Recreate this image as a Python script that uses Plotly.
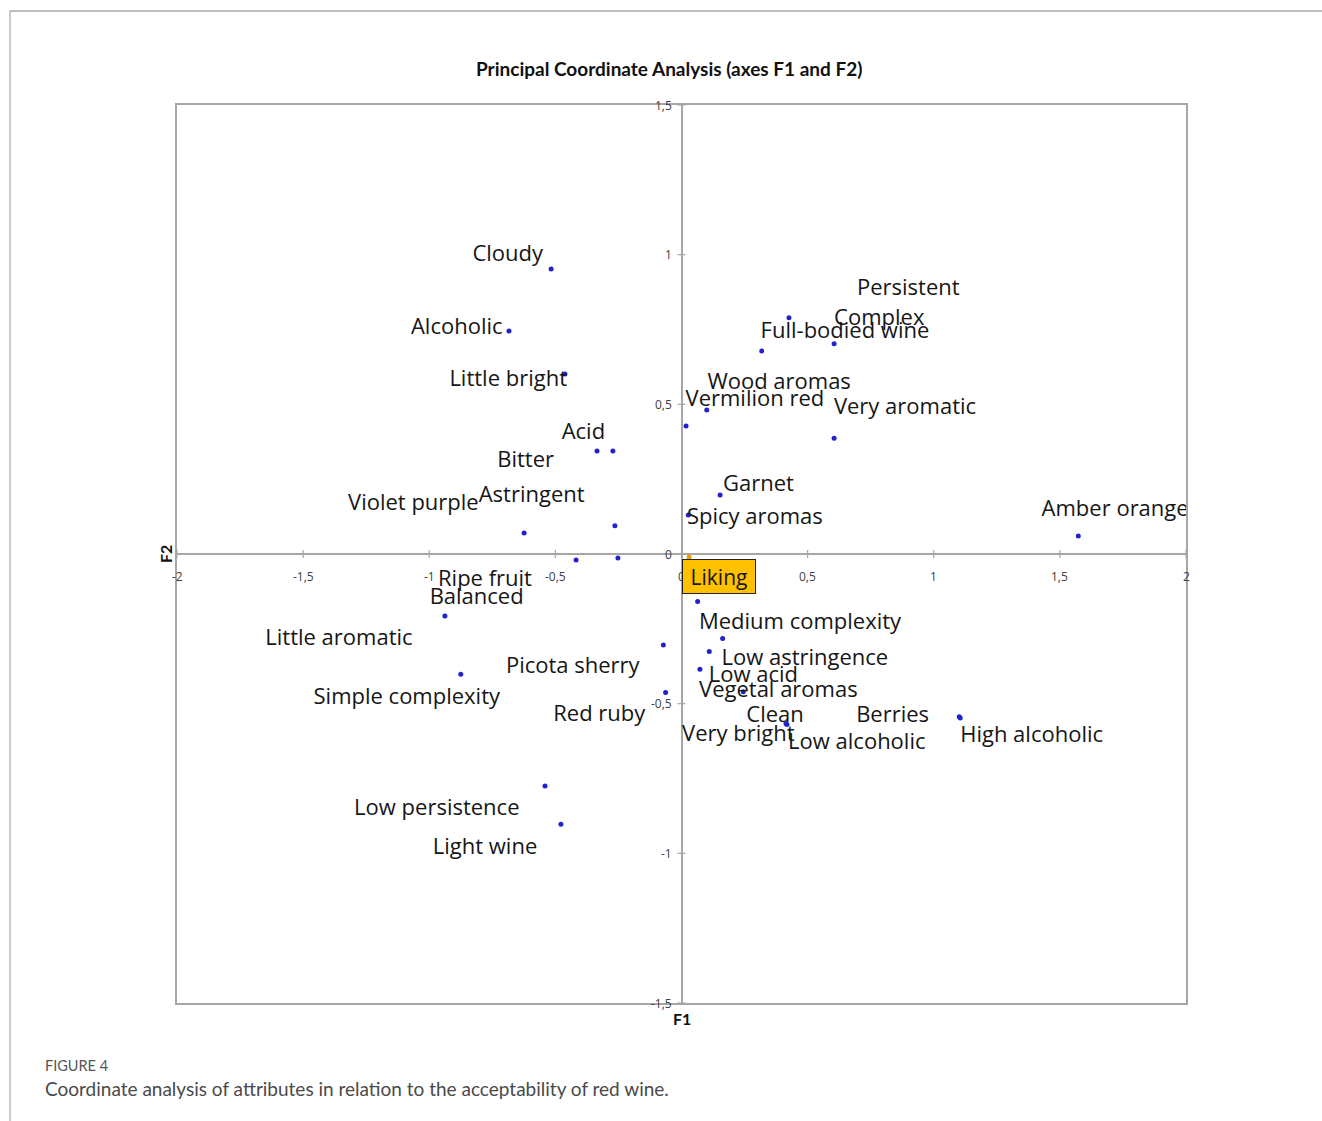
import plotly.graph_objects as go

# Attribute coordinates on the first two principal axes
attributes = [
    "Cloudy", "Alcoholic", "Little bright", "Acid", "Bitter", "Astringent",
    "Violet purple", "Ripe fruit", "Balanced", "Little aromatic",
    "Simple complexity", "Picota sherry", "Red ruby", "Low persistence",
    "Light wine", "Persistent", "Complex", "Full-bodied wine", "Wood aromas",
    "Vermilion red", "Very aromatic", "Garnet", "Spicy aromas", "Amber orange",
    "Medium complexity", "Low astringence", "Low acid", "Vegetal aromas",
    "Clean", "Very bright", "Low alcoholic", "Berries", "High alcoholic",
]
f1 = [
    -0.517, -0.684, -0.462, -0.272, -0.335, -0.264,
    -0.624, -0.252, -0.418, -0.938,
    -0.875, -0.072, -0.063, -0.541,
    -0.478, 0.426, 0.605, 0.318, 0.100,
    0.018, 0.605, 0.153, 0.027, 1.573,
    0.064, 0.163, 0.110, 0.073,
    0.245, 0.414, 0.418, 1.101, 1.105,
]
f2 = [
    0.952, 0.745, 0.601, 0.344, 0.344, 0.094,
    0.070, -0.013, -0.020, -0.207,
    -0.402, -0.304, -0.463, -0.775,
    -0.903, 0.789, 0.702, 0.678, 0.481,
    0.428, 0.387, 0.197, 0.130, 0.060,
    -0.159, -0.282, -0.326, -0.385,
    -0.460, -0.566, -0.570, -0.544, -0.548,
]
# Where each attribute name sits on the map (label centres, axis units)
label_f1 = [
    -0.689, -0.891, -0.687, -0.389, -0.618, -0.594,
    -1.063, -0.779, -0.812, -1.358,
    -1.089, -0.431, -0.326, -0.970,
    -0.779, 0.899, 0.784, 0.648, 0.387,
    0.291, 0.886, 0.305, 0.291, 1.719,
    0.470, 0.489, 0.285, 0.384,
    0.371, 0.225, 0.695, 0.837, 1.388,
]
label_f2 = [
    0.996, 0.752, 0.581, 0.403, 0.308, 0.191,
    0.164, -0.089, -0.148, -0.287,
    -0.482, -0.380, -0.540, -0.853,
    -0.983, 0.882, 0.784, 0.739, 0.570,
    0.514, 0.487, 0.230, 0.119, 0.147,
    -0.232, -0.352, -0.408, -0.458,
    -0.544, -0.605, -0.633, -0.544, -0.610,
]

# Overall liking, projected as a supplementary variable
liking_name = "Liking"
liking_f1 = [0.030]
liking_f2 = [-0.010]

x_ticks = [-2, -1.5, -1, -0.5, 0, 0.5, 1, 1.5, 2]
y_ticks = [-1.5, -1, -0.5, 0, 0.5, 1, 1.5]


def fmt(v):
    return ("%g" % v).replace(".", ",")


W, H = 1322, 1121
ML, MR, MT, MB = 177, 136, 105, 118
PW, PH = W - ML - MR, H - MT - MB


def px(xpix):
    return (xpix - ML) / PW


def py(ypix):
    return (H - MB - ypix) / PH


AXIS_GREY = "#a6a6a6"
TEXT = "#161616"
FONT = "Open Sans"

fig = go.Figure()

fig.add_trace(go.Scatter(
    x=f1, y=f2, mode="markers",
    marker=dict(color="#2222cc", size=5),
    hoverinfo="text", text=attributes, showlegend=False,
))
fig.add_trace(go.Scatter(
    x=liking_f1, y=liking_f2, mode="markers",
    marker=dict(color="#e8a000", size=5),
    hoverinfo="skip", showlegend=False,
))
fig.add_trace(go.Scatter(
    x=label_f1, y=label_f2, mode="text", text=attributes,
    textposition="middle center",
    textfont=dict(family=FONT, size=22, color=TEXT),
    hoverinfo="skip", showlegend=False,
))

shapes = []
# small cross ticks on the axes through the origin
for v in x_ticks:
    shapes.append(dict(type="line", xref="x", yref="y", x0=v, x1=v,
                       ysizemode="pixel", yanchor=0, y0=-4, y1=4,
                       line=dict(color=AXIS_GREY, width=1.2)))
for v in y_ticks:
    shapes.append(dict(type="line", xref="x", yref="y", y0=v, y1=v,
                       xsizemode="pixel", xanchor=0, x0=-4, x1=4,
                       line=dict(color=AXIS_GREY, width=1.2)))
# page frame around the figure
shapes.append(dict(type="line", xref="paper", yref="paper",
                   x0=px(10), x1=px(1322), y0=py(11), y1=py(11),
                   line=dict(color="#bdbdbd", width=2)))
shapes.append(dict(type="line", xref="paper", yref="paper",
                   x0=px(10), x1=px(10), y0=py(11), y1=py(1121),
                   line=dict(color="#9a9a9a", width=1)))

annotations = []
for v in x_ticks:
    annotations.append(dict(x=v, y=0, xref="x", yref="y", text=fmt(v),
                            showarrow=False, yshift=-22,
                            xanchor="center", yanchor="middle",
                            font=dict(family=FONT, size=12, color="#404040")))
for v in y_ticks:
    annotations.append(dict(x=0, y=v, xref="x", yref="y", text=fmt(v),
                            showarrow=False, xanchor="right", yanchor="middle",
                            xshift=-8,
                            font=dict(family=FONT, size=12, color="#404040")))

annotations.append(dict(
    x=liking_f1[0], y=liking_f2[0], xref="x", yref="y", text=liking_name,
    showarrow=False, xanchor="left", yanchor="top", xshift=-7, yshift=-2,
    width=68, height=29, align="center", valign="middle",
    bgcolor="#ffc000", bordercolor="#222222", borderwidth=1, borderpad=2,
    font=dict(family=FONT, size=21, color=TEXT)))

annotations.append(dict(
    x=px(669), y=py(68), xref="paper", yref="paper",
    xanchor="center", yanchor="middle",
    text="<b>Principal Coordinate Analysis (axes F1 and F2)</b>",
    showarrow=False, font=dict(family="Lato", size=19, color="#111111")))
annotations.append(dict(
    x=0, y=py(1019), xref="x", yref="paper", text="<b>F1</b>",
    xanchor="center", yanchor="middle",
    showarrow=False, font=dict(family="Lato", size=16, color="#111111")))
annotations.append(dict(
    x=px(165), y=0, xref="paper", yref="y", text="<b>F2</b>", textangle=-90,
    xanchor="center", yanchor="middle",
    showarrow=False, font=dict(family="Lato", size=16, color="#111111")))
annotations.append(dict(
    x=px(43), y=py(1065), xref="paper", yref="paper", text="FIGURE 4",
    showarrow=False, xanchor="left", yanchor="middle",
    font=dict(family="Lato", size=14.5, color="#555555")))
annotations.append(dict(
    x=px(43), y=py(1088), xref="paper", yref="paper",
    text="Coordinate analysis of attributes in relation to the acceptability of red wine.",
    showarrow=False, xanchor="left", yanchor="middle",
    font=dict(family="Lato", size=19, color="#4a4a4a")))

axis_common = dict(showgrid=False, zeroline=True, zerolinecolor=AXIS_GREY,
                   zerolinewidth=1.5, showline=True, linecolor=AXIS_GREY,
                   linewidth=2, mirror=True, showticklabels=False,
                   ticks="", fixedrange=True)

fig.update_layout(
    width=W, height=H,
    margin=dict(l=ML, r=MR, t=MT, b=MB, pad=0),
    paper_bgcolor="white", plot_bgcolor="white",
    xaxis=dict(range=[-2, 2], **axis_common),
    yaxis=dict(range=[-1.5, 1.5], **axis_common),
    shapes=shapes, annotations=annotations,
)

fig.write_html("out.html")
